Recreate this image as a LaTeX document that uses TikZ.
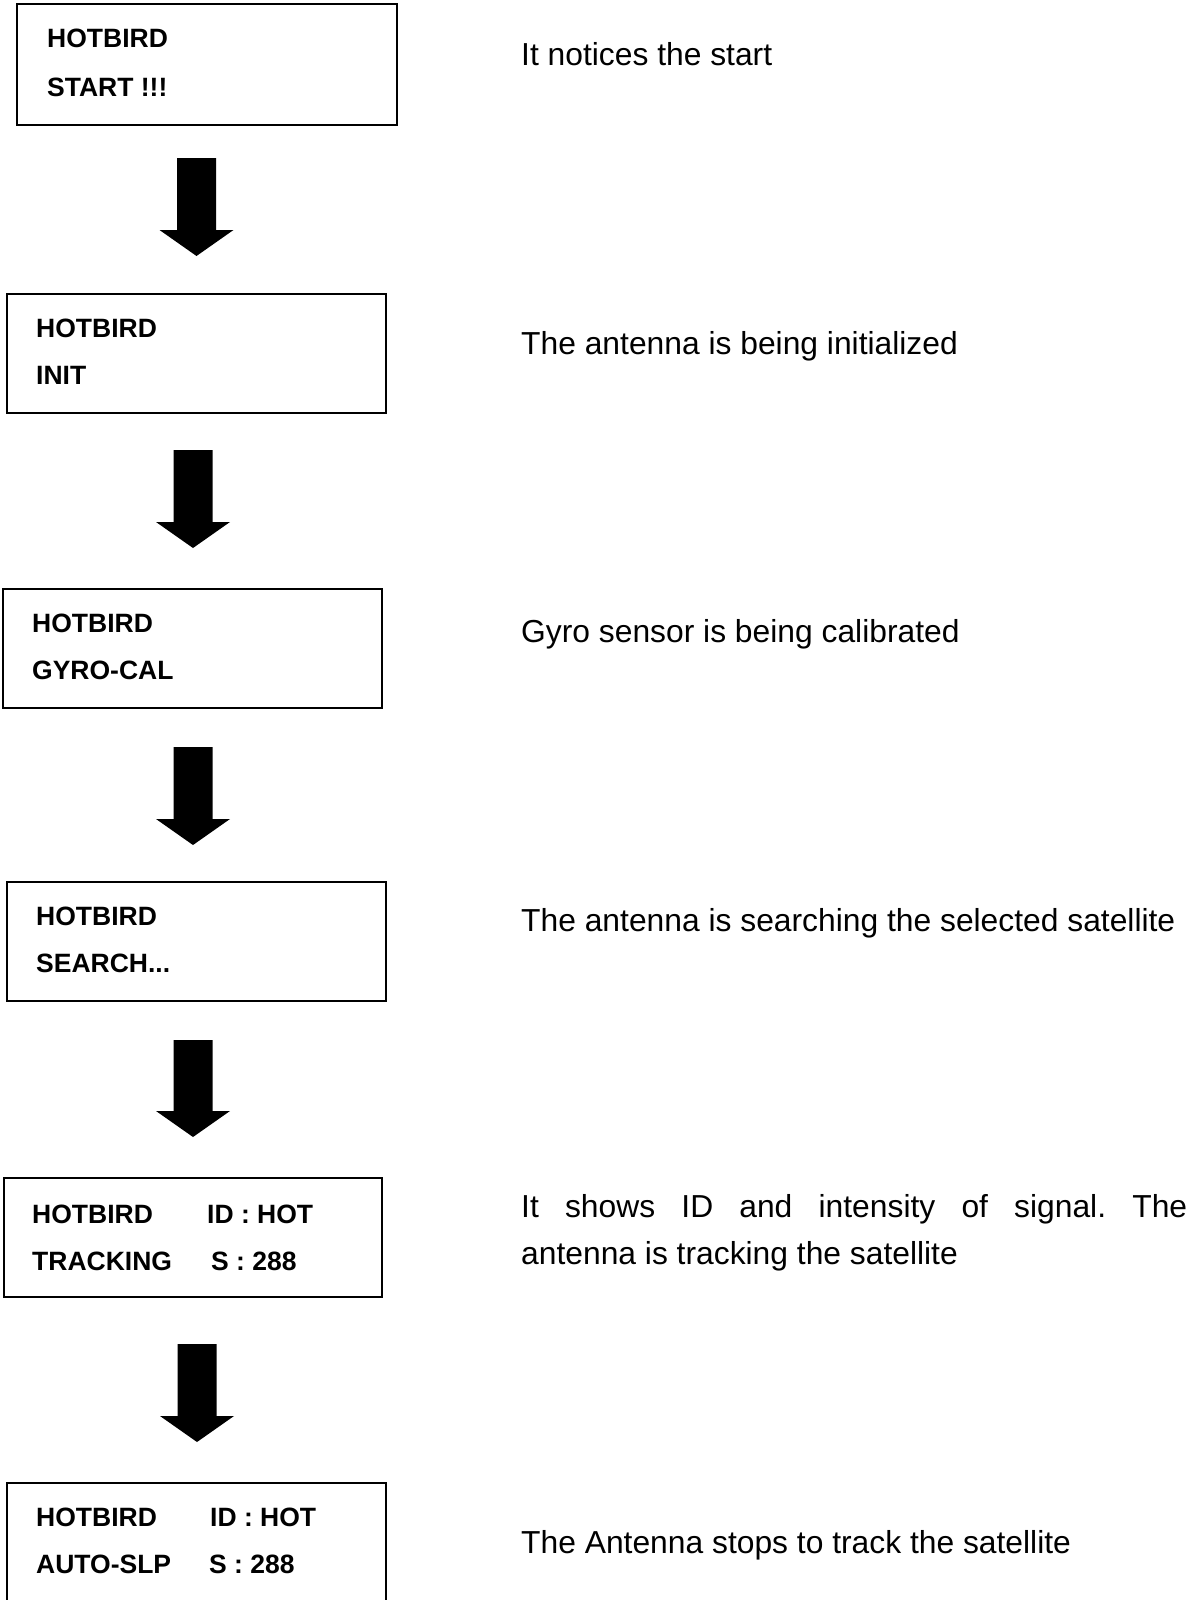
\documentclass[tikz,border=0pt]{standalone}
\usepackage{fontspec}
\setmainfont{Liberation Sans}
\frenchspacing
\newcommand\blkarrow[3]{%
  \fill (#1-19.5,#2) -- (#1+19.5,#2) -- (#1+19.5,#3-26) -- (#1+37,#3-26)
    -- (#1,#3) -- (#1-37,#3-26) -- (#1-19.5,#3-26) -- cycle;}
\begin{document}
\begin{tikzpicture}[x=1pt,y=-1pt,
  lcd/.style={draw, line width=1.8pt, inner sep=0pt, anchor=north west},
  lcdtxt/.style={anchor=base west, inner sep=0pt, font=\fontsize{26.5}{30}\selectfont\bfseries},
  note/.style={anchor=base west, inner sep=0pt, font=\fontsize{31.8}{38}\selectfont}]
\useasboundingbox (0,0) rectangle (1191,1600);
% boxes
\node[lcd, minimum width=380pt, minimum height=121pt] (b1) at (16,3) {};
\node[lcd, minimum width=379pt, minimum height=119pt] (b2) at (6,293) {};
\node[lcd, minimum width=379pt, minimum height=119pt] (b3) at (2,588) {};
\node[lcd, minimum width=379pt, minimum height=119pt] (b4) at (6,881) {};
\node[lcd, minimum width=378pt, minimum height=119pt] (b5) at (3,1177) {};
\node[lcd, minimum width=379pt, minimum height=125pt] (b6) at (6,1482) {};
% box texts
\node[lcdtxt] (t1a) at (47,48) {HOTBIRD};
\node[lcdtxt] (t1b) at (47,97) {START !!!};
\node[lcdtxt] (t2a) at (36,337) {HOTBIRD};
\node[lcdtxt] (t2b) at (36,384) {INIT};
\node[lcdtxt] (t3a) at (32,632) {HOTBIRD};
\node[lcdtxt] (t3b) at (32,679) {GYRO-CAL};
\node[lcdtxt] (t4a) at (36,925) {HOTBIRD};
\node[lcdtxt] (t4b) at (36,972) {SEARCH...};
\node[lcdtxt] (t5a) at (32,1223) {HOTBIRD};
\node[lcdtxt] (t5c) at (207,1223) {ID : HOT};
\node[lcdtxt] (t5b) at (32,1270) {TRACKING};
\node[lcdtxt] (t5d) at (211,1270) {S : 288};
\node[lcdtxt] (t6a) at (36,1526) {HOTBIRD};
\node[lcdtxt] (t6c) at (210,1526) {ID : HOT};
\node[lcdtxt] (t6b) at (36,1573) {AUTO-SLP};
\node[lcdtxt] (t6d) at (209,1573) {S : 288};
% notes
\node[note] (n1) at (521,66) {It notices the start};
\node[note] (n2) at (521,354) {The antenna is being initialized};
\node[note] (n3) at (521,642) {Gyro sensor is being calibrated};
\node[note] (n4) at (521,931) {The antenna is searching the selected satellite};
\node[note] (n5a) at (521,1217) {\makebox[666pt][s]{It shows ID and intensity of signal. The}};
\node[note] (n5b) at (521,1264) {antenna is tracking the satellite};
\node[note] (n6) at (521,1553) {The Antenna stops to track the satellite};
% arrows
\blkarrow{196.5}{158}{256}
\blkarrow{193}{450}{548}
\blkarrow{193}{747}{845}
\blkarrow{193}{1040}{1137}
\blkarrow{197}{1344}{1442}
\end{tikzpicture}
\end{document}
